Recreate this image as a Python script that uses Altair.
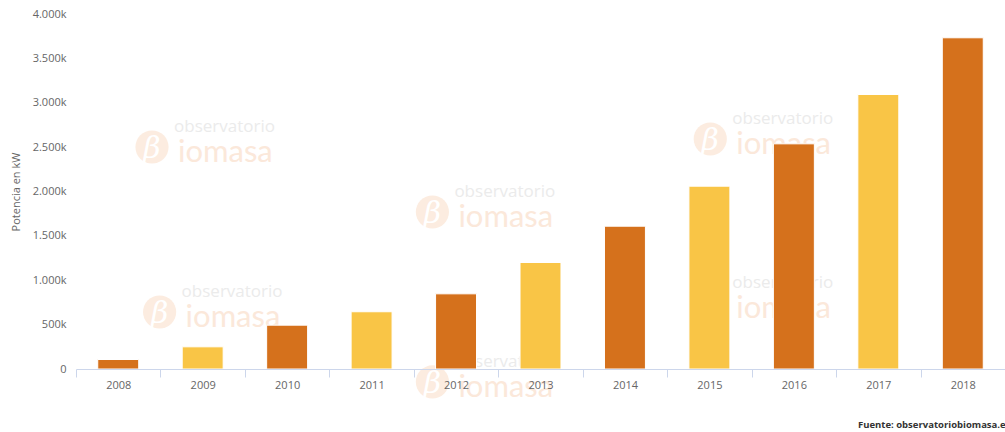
import altair as alt
import pandas as pd

# ---- data ----
years = ["2008", "2009", "2010", "2011", "2012", "2013", "2014", "2015", "2016", "2017", "2018"]
potencia_kw = [107000, 250000, 494000, 645000, 847000, 1200000, 1609000, 2060000, 2537000, 3093000, 3732000]
serie = ["a", "b", "a", "b", "a", "b", "a", "b", "a", "b", "a"]
y_ticks = [0, 500000, 1000000, 1500000, 2000000, 2500000, 3000000, 3500000, 4000000]

# watermark anchors (x in category-slot units, y in kW)
wm_x = [0.90, 4.22, 7.51, 0.99, 4.22, 7.51]
wm_y = [2501000, 1769000, 2592000, 642000, -146000, 744000]

credit = "Fuente: observatoriobiomasa.es"

bars_df = pd.DataFrame({"anio": years, "potencia": potencia_kw, "serie": serie})
wm_df = pd.DataFrame({"wx": wm_x, "wy": wm_y})

FONT = "Open Sans"
W, H = 929, 355

y_scale = alt.Scale(domain=[0, 4000000], nice=False, zero=True)

# ---- watermark layer ----
wm_base = alt.Chart(wm_df).encode(
    x=alt.X("wx:Q", scale=alt.Scale(domain=[0, 11], nice=False, zero=False), axis=None),
    y=alt.Y("wy:Q", scale=y_scale, axis=None),
)
wm_circle = wm_base.mark_circle(size=1100, color="#fcece0", opacity=1)
wm_beta = wm_base.mark_text(text="β", font="DejaVu Serif", fontSize=30, fontStyle="italic",
                            color="#ffffff", align="center", baseline="middle", dy=2)
wm_obs = wm_base.mark_text(text="observatorio", font=FONT, fontSize=17, color="#ebebeb",
                           align="left", baseline="middle", dx=22, dy=-20)
wm_bio = wm_base.mark_text(text="iomasa", font="Lato", fontSize=31, color="#fbe8da",
                           align="left", baseline="middle", dx=26, dy=6)
watermark = alt.layer(wm_circle, wm_beta, wm_obs, wm_bio)

# ---- bars ----
bars = alt.Chart(bars_df).mark_bar(
    width=alt.RelativeBandSize(0.485), stroke="#ffffff", strokeWidth=1
).encode(
    x=alt.X("anio:N", sort=years, title=None,
            scale=alt.Scale(paddingInner=0, paddingOuter=0),
            axis=alt.Axis(orient="bottom", domainColor="#ccd6eb", tickColor="#ccd6eb", tickSize=8,
                          tickBand="extent", labelAngle=0, labelColor="#666666", labelFontSize=11,
                          labelFont=FONT, labelPadding=2, grid=False, zindex=1)),
    y=alt.Y("potencia:Q", scale=y_scale, title="Potencia en kW",
            axis=alt.Axis(orient="left", values=y_ticks,
                          labelExpr="datum.value == 0 ? '0' : replace(format(datum.value / 1000, ',d'), ',', '.') + 'k'",
                          domain=False, ticks=False, gridColor="#e6e6e6", gridWidth=1,
                          labelPadding=10, labelColor="#666666", labelFontSize=11, labelFont=FONT,
                          titleX=-60, titleY=H / 2, titleAngle=-90, titleAlign="center",
                          titleBaseline="middle", titleFontWeight="normal", titleFontSize=11,
                          titleColor="#666666", titleFont=FONT)),
    color=alt.Color("serie:N", scale=alt.Scale(domain=["a", "b"], range=["#d5711c", "#f9c546"]),
                    legend=None),
)

credits = alt.Chart(pd.DataFrame({"t": [credit]})).mark_text(
    font=FONT, fontSize=9.5, fontWeight="bold", color="#333333", align="left", baseline="middle"
).encode(text="t:N", x=alt.value(782), y=alt.value(411))

chart = alt.layer(watermark, bars, credits).resolve_scale(
    x="independent", y="independent"
).properties(
    width=W, height=H,
    autosize=alt.AutoSizeParams(type="none"),
    padding={"left": 76, "top": 14, "right": 0, "bottom": 63},
    background="#ffffff",
).configure_view(stroke=None)

chart.save("out.html", embed_options={"renderer": "svg", "actions": False})
